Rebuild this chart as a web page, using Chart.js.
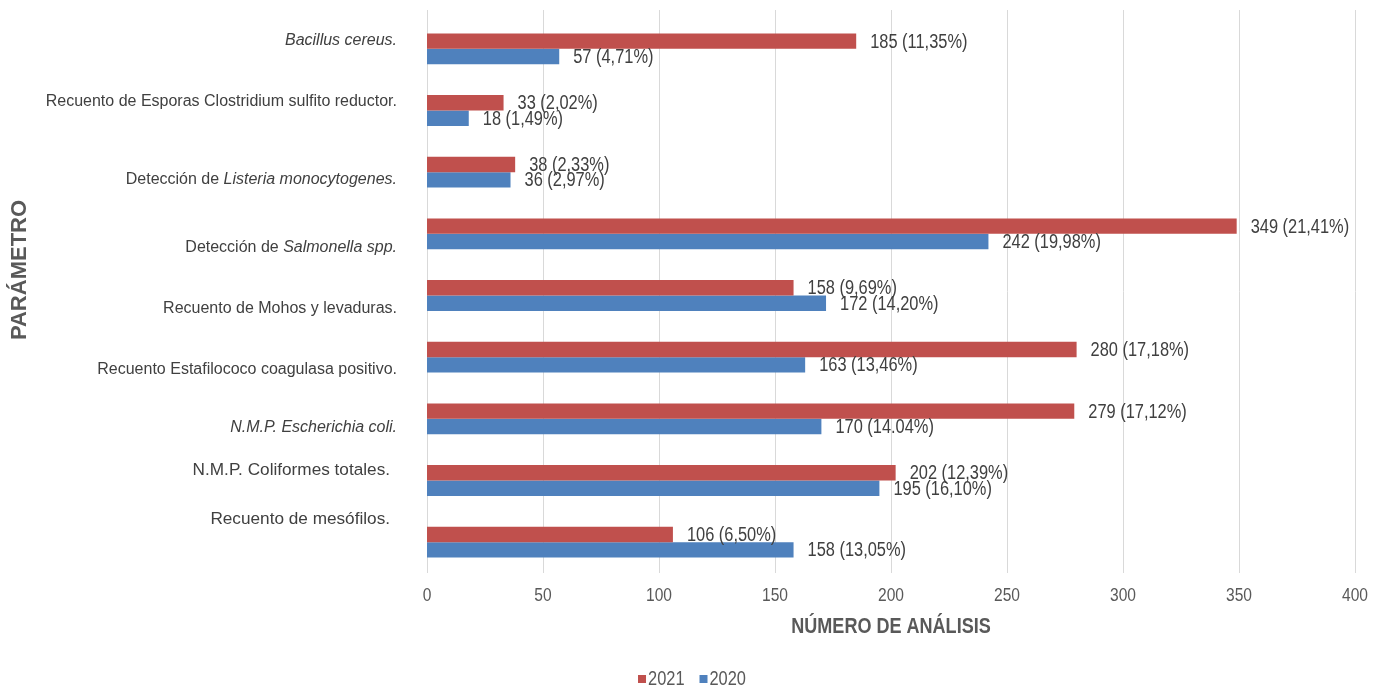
<!DOCTYPE html>
<html>
<head>
<meta charset="utf-8">
<script src="https://cdn.jsdelivr.net/npm/chart.js@4.4.1/dist/chart.umd.min.js"></script>
<style>
  html, body { margin: 0; padding: 0; background: #ffffff; }
  #wrap { width: 1384px; height: 687px; position: relative; }
</style>
</head>
<body>
<div id="wrap"><canvas id="chart"></canvas></div>
<script>
const categories = [
  "Bacillus cereus.",
  "Recuento de Esporas Clostridium sulfito reductor.",
  "Detección de Listeria monocytogenes.",
  "Detección de Salmonella spp.",
  "Recuento de Mohos y levaduras.",
  "Recuento Estafilococo coagulasa positivo.",
  "N.M.P. Escherichia coli.",
  "N.M.P. Coliformes totales.",
  "Recuento de mesófilos."
];
const italicTerms = ["Bacillus cereus.", "Listeria monocytogenes.", "Salmonella spp.", "N.M.P. Escherichia coli."];

const years = ["2021", "2020"];
const values2021 = [185, 33, 38, 349, 158, 280, 279, 202, 106];
const values2020 = [57, 18, 36, 242, 172, 163, 170, 195, 158];
const pct2021 = ["11,35%", "2,02%", "2,33%", "21,41%", "9,69%", "17,18%", "17,12%", "12,39%", "6,50%"];
const pct2020 = ["4,71%", "1,49%", "2,97%", "19,98%", "14,20%", "13,46%", "14.04%", "16,10%", "13,05%"];
const xTicks = [0, 50, 100, 150, 200, 250, 300, 350, 400];

// category labels in the original sit a bit off the bar centres
const labelShift = [-8, -9, 7, 14, 13, 12, 9, -10, -23];
const labelRight = [397, 397, 397, 397, 397, 397, 397, 390, 390];
const labelSize = [16, 16, 16, 16, 16, 16, 16, 17.2, 17.2];

const SANS = '"Liberation Sans", Arial, sans-serif';
const SQUEEZE = 0.82; // no narrow font installed, so squeeze Liberation Sans

// draws text horizontally squeezed, aligned like ctx.textAlign
function narrowText(ctx, text, x, y, align) {
  ctx.save();
  ctx.translate(x, y);
  ctx.scale(SQUEEZE, 1);
  ctx.textAlign = align;
  ctx.fillText(text, 0, 0);
  ctx.restore();
}
function narrowWidth(ctx, text) {
  return ctx.measureText(text).width * SQUEEZE;
}

const gridPlugin = {
  id: "gridTall",
  beforeDatasetsDraw: (chart) => {
    const ctx = chart.ctx;
    const xScale = chart.scales.x;
    const area = chart.chartArea;
    ctx.save();
    ctx.strokeStyle = "#d9d9d9";
    ctx.lineWidth = 1;
    xTicks.forEach((v) => {
      const x = Math.round(xScale.getPixelForValue(v)) + 0.5;
      ctx.beginPath();
      ctx.moveTo(x, area.top - 8);
      ctx.lineTo(x, area.bottom);
      ctx.stroke();
    });
    ctx.restore();
  },
};

const textPlugin = {
  id: "texts",
  afterDraw: (chart) => {
    const ctx = chart.ctx;
    const yScale = chart.scales.y;
    const xScale = chart.scales.x;
    const area = chart.chartArea;
    ctx.save();
    ctx.fillStyle = "#404040";
    ctx.textBaseline = "middle";
    ctx.textAlign = "left";
    categories.forEach((label, i) => {
      const y = yScale.getPixelForValue(i) + labelShift[i];
      const size = labelSize[i];
      const term = italicTerms.find((t) => label.indexOf(t) !== -1);
      let parts = [[label, false]];
      if (term) {
        const at = label.indexOf(term);
        parts = [[label.slice(0, at), false], [term, true], [label.slice(at + term.length), false]]
          .filter((p) => p[0].length > 0);
      }
      const fontFor = (it) => (it ? "italic " : "") + size + "px " + SANS;
      let total = 0;
      parts.forEach((p) => { ctx.font = fontFor(p[1]); total += ctx.measureText(p[0]).width; });
      let x = labelRight[i] - total;
      parts.forEach((p) => {
        ctx.font = fontFor(p[1]);
        ctx.fillText(p[0], x, y);
        x += ctx.measureText(p[0]).width;
      });
    });

    // x tick labels
    ctx.fillStyle = "#595959";
    ctx.font = "19px " + SANS;
    xTicks.forEach((v) => {
      narrowText(ctx, String(v), xScale.getPixelForValue(v), area.bottom + 23, "center");
    });

    // x title
    ctx.font = "bold 22px " + SANS;
    narrowText(ctx, "NÚMERO DE ANÁLISIS", (area.left + area.right) / 2, area.bottom + 54, "center");

    // legend
    ctx.font = "20px " + SANS;
    const ds = chart.data.datasets;
    const box = 8, gapBox = 2, gapItem = 15;
    let total = 0;
    ds.forEach((d, i) => {
      total += box + gapBox + narrowWidth(ctx, d.label) + (i < ds.length - 1 ? gapItem : 0);
    });
    let lx = chart.width / 2 - total / 2;
    const ly = 679;
    ds.forEach((d) => {
      ctx.fillStyle = d.backgroundColor;
      ctx.fillRect(lx, ly - box / 2, box, box);
      lx += box + gapBox;
      ctx.fillStyle = "#595959";
      narrowText(ctx, d.label, lx, ly, "left");
      lx += narrowWidth(ctx, d.label) + gapItem;
    });

    // vertical axis title
    ctx.translate(20, 270);
    ctx.rotate(-Math.PI / 2);
    ctx.textAlign = "center";
    ctx.fillStyle = "#595959";
    ctx.font = "bold 22px " + SANS;
    ctx.fillText("PARÁMETRO", 0, 0);
    ctx.restore();
  },
};

const barLabelsPlugin = {
  id: "barLabels",
  afterDatasetsDraw: (chart) => {
    const ctx = chart.ctx;
    const pcts = [pct2021, pct2020];
    ctx.save();
    ctx.font = "20px " + SANS;
    ctx.fillStyle = "#404040";
    ctx.textBaseline = "middle";
    chart.data.datasets.forEach((ds, di) => {
      chart.getDatasetMeta(di).data.forEach((bar, i) => {
        narrowText(ctx, ds.data[i] + " (" + pcts[di][i] + ")", bar.x + 14, bar.y + 1, "left");
      });
    });
    ctx.restore();
  },
};

const chart = new Chart(document.getElementById("chart"), {
  type: "bar",
  data: {
    labels: categories,
    datasets: [
      { label: years[0], data: values2021, backgroundColor: "#C0504D" },
      { label: years[1], data: values2020, backgroundColor: "#4F81BD" },
    ],
  },
  options: {
    indexAxis: "y",
    responsive: true,
    maintainAspectRatio: false,
    animation: false,
    layout: { padding: { left: 0, right: 29, top: 18, bottom: 0 } },
    datasets: {
      bar: { categoryPercentage: 0.5, barPercentage: 1.0 },
    },
    scales: {
      x: {
        min: 0,
        max: 400,
        afterBuildTicks: (scale) => { scale.ticks = xTicks.map((v) => ({ value: v })); },
        afterFit: (scale) => { scale.height = 114; },
        grid: { display: false },
        border: { display: false },
        ticks: { display: false },
      },
      y: {
        afterFit: (scale) => { scale.width = 427; },
        grid: { display: false },
        border: { display: false },
        ticks: { display: false },
      },
    },
    plugins: {
      legend: { display: false },
      tooltip: { enabled: false },
    },
  },
  plugins: [gridPlugin, textPlugin, barLabelsPlugin],
});
</script>
</body>
</html>
